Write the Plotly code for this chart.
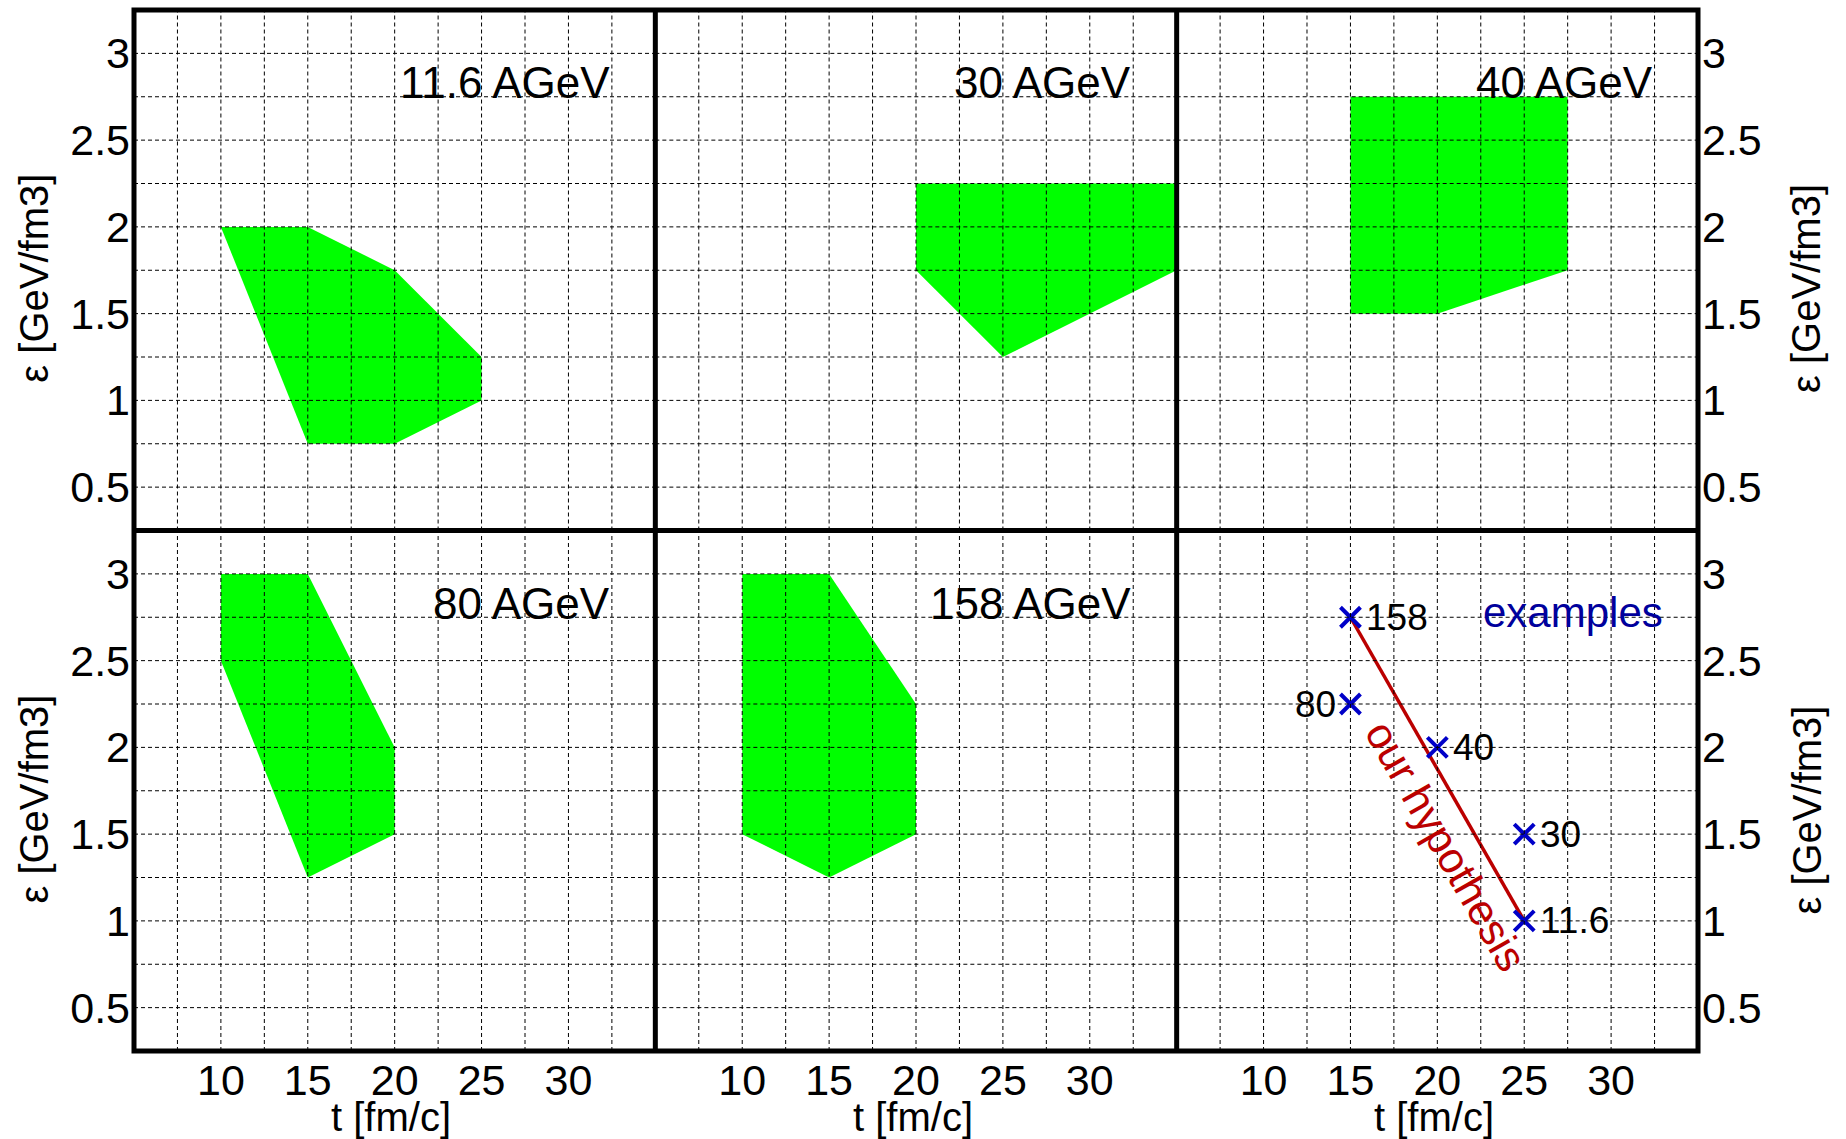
import numpy as np
import plotly.graph_objects as go
from plotly.subplots import make_subplots

# Allowed freeze-out regions (t [fm/c], energy density [GeV/fm3]) per beam energy,
# corners listed in drawing order
t_116 = [10, 15, 20, 25, 25, 20, 15]
e_116 = [2.0, 2.0, 1.75, 1.25, 1.0, 0.75, 0.75]
t_30 = [20, 35, 35, 25, 20]
e_30 = [2.25, 2.25, 1.75, 1.25, 1.75]
t_40 = [15, 27.5, 27.5, 20, 15]
e_40 = [2.75, 2.75, 1.75, 1.5, 1.5]
t_80 = [10, 15, 20, 20, 15, 10]
e_80 = [3.0, 3.0, 2.0, 1.5, 1.25, 2.5]
t_158 = [10, 15, 20, 20, 15, 10]
e_158 = [3.0, 3.0, 2.25, 1.5, 1.25, 1.5]

panel_labels = ["11.6 AGeV", "30 AGeV", "40 AGeV", "80 AGeV", "158 AGeV"]

# Example points picked inside each region
example_names = ["158", "80", "40", "30", "11.6"]
example_t = [15, 15, 20, 25, 25]
example_e = [2.75, 2.25, 2.0, 1.5, 1.0]

# Hypothesis line through the examples
hypothesis_t = [15, 25]
hypothesis_e = [2.75, 1.0]

x_ticks = [10, 15, 20, 25, 30]
y_ticks = [0.5, 1.0, 1.5, 2.0, 2.5, 3.0]
y_ticktext = ["0.5", "1", "1.5", "2", "2.5", "3"]

X_RANGE = [5, 35]
Y_RANGE = [0.25, 3.25]

FONT = "Liberation Sans, Arial, sans-serif"
GREEN = "#00ff00"
BLUE = "#0000c8"
NAVY = "#00009c"
RED = "#bb0000"

fig = make_subplots(rows=2, cols=3, horizontal_spacing=0, vertical_spacing=0)

regions = [(t_116, e_116), (t_30, e_30), (t_40, e_40), (t_80, e_80), (t_158, e_158)]
cells = [(1, 1), (1, 2), (1, 3), (2, 1), (2, 2)]
for (tx, ey), (r, c) in zip(regions, cells):
    fig.add_trace(
        go.Scatter(x=tx + [tx[0]], y=ey + [ey[0]], mode="lines", fill="toself",
                   fillcolor=GREEN, line=dict(width=0, color=GREEN),
                   hoverinfo="skip", showlegend=False),
        row=r, col=c,
    )

# Summary panel: hypothesis line and example points
fig.add_trace(
    go.Scatter(x=hypothesis_t, y=hypothesis_e, mode="lines",
               line=dict(color=RED, width=3.5), showlegend=False),
    row=2, col=3,
)
fig.add_trace(
    go.Scatter(x=example_t, y=example_e, mode="markers",
               marker=dict(symbol="x-thin", size=20, line=dict(color=BLUE, width=4)),
               showlegend=False),
    row=2, col=3,
)

# Axes
for i in range(1, 7):
    row = 1 if i <= 3 else 2
    col = (i - 1) % 3 + 1
    fig.update_xaxes(
        range=X_RANGE, tickvals=x_ticks, ticktext=[str(v) for v in x_ticks],
        showticklabels=(row == 2), ticks="", showgrid=False, zeroline=False,
        showline=False, tickfont=dict(family=FONT, size=43, color="black"),
        ticklabelstandoff=0,
        row=row, col=col,
    )
    fig.update_yaxes(
        range=Y_RANGE, tickvals=y_ticks, ticktext=y_ticktext,
        showticklabels=(col != 2), side=("right" if col == 3 else "left"),
        ticks="", showgrid=False, zeroline=False, showline=False,
        tickfont=dict(family=FONT, size=43, color="black"),
        ticklabelstandoff=3,
        row=row, col=col,
    )

shapes = []
# Dashed grid, drawn on top of the filled regions
grid_line = dict(color="black", width=1, dash="4px,3px")
for i in range(1, 7):
    xs = "" if i == 1 else str(i)
    for v in np.arange(7.5, 33.0, 2.5):
        shapes.append(dict(type="line", xref="x" + xs, yref="y" + xs + " domain",
                           x0=v, x1=v, y0=0, y1=1, line=grid_line, layer="above"))
    for v in np.arange(0.5, 3.01, 0.25):
        shapes.append(dict(type="line", xref="x" + xs + " domain", yref="y" + xs,
                           x0=0, x1=1, y0=v, y1=v, line=grid_line, layer="above"))

# Thick frame and panel dividers
frame = dict(color="black", width=5)
shapes.append(dict(type="rect", xref="paper", yref="paper", x0=0, x1=1, y0=0, y1=1,
                   line=frame, layer="above"))
for xv in (1 / 3, 2 / 3):
    shapes.append(dict(type="line", xref="paper", yref="paper", x0=xv, x1=xv, y0=0, y1=1,
                       line=frame, layer="above"))
shapes.append(dict(type="line", xref="paper", yref="paper", x0=0, x1=1, y0=0.5, y1=0.5,
                   line=frame, layer="above"))

annotations = []
# Beam-energy labels
for k, label in enumerate(panel_labels):
    xs = "" if k == 0 else str(k + 1)
    annotations.append(dict(text=label, x=32.5, y=2.83, xref="x" + xs, yref="y" + xs,
                            xanchor="right", yanchor="middle", showarrow=False,
                            font=dict(family=FONT, size=44, color="black")))

# Labels next to the example points
left_side = {"80"}
for name, tx, ey in zip(example_names, example_t, example_e):
    on_left = name in left_side
    annotations.append(dict(text=name, x=tx, y=ey, xref="x6", yref="y6",
                            xanchor="right" if on_left else "left", yanchor="middle",
                            xshift=-12 if on_left else 14, showarrow=False,
                            font=dict(family=FONT, size=37, color="black")))

annotations.append(dict(text="examples", x=27.83, y=2.78, xref="x6", yref="y6",
                        xanchor="center", yanchor="middle", showarrow=False,
                        font=dict(family=FONT, size=42, color=NAVY)))
annotations.append(dict(text="our hypothesis", x=20.5, y=1.43, xref="x6", yref="y6",
                        xanchor="center", yanchor="middle", showarrow=False,
                        textangle=60.2,
                        font=dict(family=FONT, size=43, color=RED)))

# Axis titles
ytitle = "\u03b5 [GeV/fm3]"
for xp, yp in [(-0.0639, 0.742), (-0.0639, 0.2416)]:
    annotations.append(dict(text=ytitle, x=xp, y=yp, xref="paper", yref="paper",
                            xanchor="center", yanchor="middle", textangle=-90,
                            showarrow=False, font=dict(family=FONT, size=40, color="black")))
for xp, yp in [(1.0694, 0.7325), (1.0694, 0.2315)]:
    annotations.append(dict(text=ytitle, x=xp, y=yp, xref="paper", yref="paper",
                            xanchor="center", yanchor="middle", textangle=-90,
                            showarrow=False, font=dict(family=FONT, size=40, color="black")))
for px in (391, 913, 1434):
    annotations.append(dict(text="t [fm/c]", x=(px - 134) / 1564, y=-0.0634,
                            xref="paper", yref="paper", xanchor="center", yanchor="middle",
                            showarrow=False, font=dict(family=FONT, size=40, color="black")))

fig.update_layout(
    width=1846, height=1139,
    margin=dict(l=134, r=148, t=10, b=88),
    paper_bgcolor="white", plot_bgcolor="white",
    shapes=shapes, annotations=annotations,
    showlegend=False,
)

fig.write_html("out.html")
